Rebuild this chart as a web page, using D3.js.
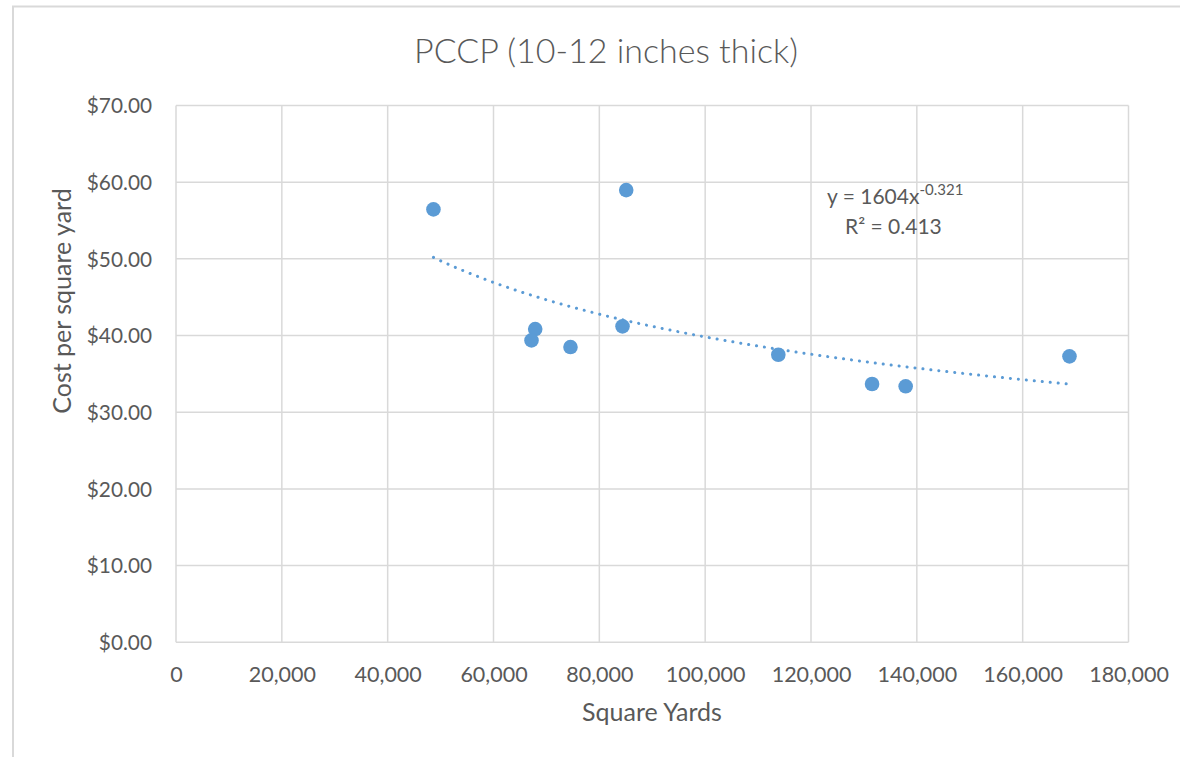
<!DOCTYPE html>
<html>
<head>
<meta charset="utf-8">
<script src="https://cdn.jsdelivr.net/npm/d3@7"></script>
<style>
  html, body { margin: 0; padding: 0; background: #fff; }
  svg { display: block; font-family: Lato, "Open Sans", sans-serif; }
</style>
</head>
<body>
<svg id="chart" width="1180" height="757"></svg>
<script>
// ---- data ----
const squareYards = [48650, 85080, 67880, 67180, 74550, 84380, 113820, 131540, 137890, 168850];
const costPerSqYd = [56.45, 58.97, 40.85, 39.37, 38.50, 41.20, 37.50, 33.68, 33.38, 37.29];
const xTicks = [0, 20000, 40000, 60000, 80000, 100000, 120000, 140000, 160000, 180000];
const yTicks = [0, 10, 20, 30, 40, 50, 60, 70];
const trendCoef = 1604;
const trendExp = -0.321;
const trendR2 = 0.413;
const titleText = "PCCP (10-12 inches thick)";
const xTitle = "Square Yards";
const yTitle = "Cost per square yard";

// ---- layout ----
const svg = d3.select("#chart");
const plot = { left: 176, right: 1128.5, top: 105.5, bottom: 642.3 };
const textColor = "#595959";
const gridColor = "#D9D9D9";
const markColor = "#5B9BD5";

// outer chart border
svg.append("path")
  .attr("d", `M13,757 L13,6.5 L1180,6.5`)
  .attr("fill", "none").attr("stroke", gridColor).attr("stroke-width", 2);

const x = d3.scaleLinear().domain([0, 180000]).range([plot.left, plot.right]);
const y = d3.scaleLinear().domain([0, 70]).range([plot.bottom, plot.top]);

// gridlines
const g = svg.append("g");
g.selectAll("line.vg").data(xTicks).join("line")
  .attr("x1", d => x(d)).attr("x2", d => x(d))
  .attr("y1", plot.top).attr("y2", plot.bottom)
  .attr("stroke", gridColor).attr("stroke-width", 1.5);
g.selectAll("line.hg").data(yTicks).join("line")
  .attr("x1", plot.left).attr("x2", plot.right)
  .attr("y1", d => y(d)).attr("y2", d => y(d))
  .attr("stroke", gridColor).attr("stroke-width", 1.5);

// axes (labels only, lines via gridlines)
const fmtX = d3.format(",");
const fmtY = d => "$" + d3.format(".2f")(d);

const xAxis = d3.axisBottom(x).tickValues(xTicks).tickFormat(fmtX).tickSize(0).tickPadding(0);
const xg = svg.append("g").attr("transform", `translate(0,${plot.bottom})`).call(xAxis);
xg.select(".domain").remove();
xg.selectAll("text").attr("fill", textColor).attr("font-size", 21.5)
  .attr("font-family", "Lato, sans-serif").attr("dy", null).attr("y", 40);

const yAxis = d3.axisLeft(y).tickValues(yTicks).tickFormat(fmtY).tickSize(0).tickPadding(0);
const yg = svg.append("g").attr("transform", `translate(152,0)`).call(yAxis);
yg.select(".domain").remove();
yg.selectAll("text").attr("fill", textColor).attr("font-size", 20.8)
  .attr("font-family", "Lato, sans-serif").attr("dy", "0.35em").attr("x", 0);

// trendline (the chart's stated power fit)
const xMin = d3.min(squareYards), xMax = d3.max(squareYards);
const trendXs = d3.range(0, 101).map(i => xMin + (xMax - xMin) * i / 100);
const line = d3.line().x(d => x(d)).y(d => y(trendCoef * Math.pow(d, trendExp)));
svg.append("path").datum(trendXs)
  .attr("d", line).attr("fill", "none")
  .attr("stroke", markColor).attr("stroke-width", 3)
  .attr("stroke-linecap", "round").attr("stroke-dasharray", "0.1 7.9");

// markers
svg.selectAll("circle.pt").data(squareYards).join("circle")
  .attr("cx", d => x(d)).attr("cy", (d, i) => y(costPerSqYd[i]))
  .attr("r", 7.3).attr("fill", markColor);

// equation label
const eq = svg.append("text").attr("x", 827).attr("y", 204)
  .attr("fill", textColor).attr("font-size", 21);
eq.append("tspan").text("y = " + trendCoef + "x");
eq.append("tspan").attr("dy", -9).attr("font-size", 15).text(String(trendExp));
svg.append("text").attr("x", 845).attr("y", 234)
  .attr("fill", textColor).attr("font-size", 21)
  .text("R² = " + trendR2);

// titles
svg.append("text").attr("x", 606).attr("y", 63).attr("text-anchor", "middle")
  .attr("fill", textColor).attr("font-size", 34).attr("font-weight", 300)
  .text(titleText);
svg.append("text").attr("x", 652).attr("y", 721).attr("text-anchor", "middle")
  .attr("fill", textColor).attr("font-size", 25)
  .text(xTitle);
svg.append("text").attr("transform", "translate(71,301) rotate(-90)")
  .attr("text-anchor", "middle")
  .attr("fill", textColor).attr("font-size", 25)
  .text(yTitle);
</script>
</body>
</html>
